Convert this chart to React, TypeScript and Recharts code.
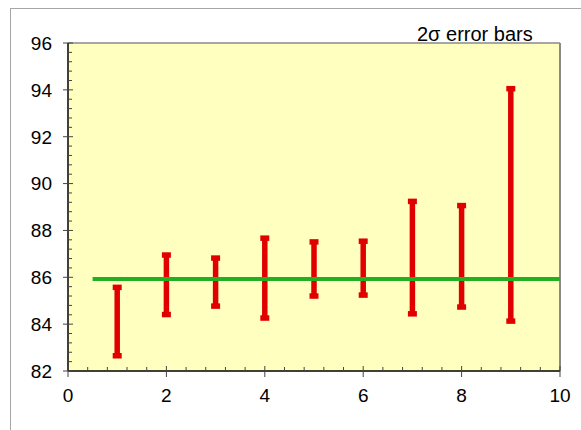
/**
 * 2σ error bars around a mean line, Excel-style plot.
 */

import {
  ComposedChart,
  Scatter,
  ErrorBar,
  XAxis,
  YAxis,
  CartesianGrid,
  ReferenceLine,
} from 'recharts'

// ---- data ----
const groups = [1, 2, 3, 4, 5, 6, 7, 8, 9]
const lowValues = [82.65, 84.41, 84.77, 84.26, 85.2, 85.24, 84.44, 84.73, 84.13]
const highValues = [85.57, 86.95, 86.82, 87.67, 87.51, 87.54, 89.24, 89.06, 94.05]
const meanLineX = [0.5, 10]
const meanValue = 85.93

const xMajorTicks = [0, 2, 4, 6, 8, 10]
const yMajorTicks = [82, 84, 86, 88, 90, 92, 94, 96]
const minorStep = 0.4

const FONT = '"Liberation Sans", Arial, sans-serif'
const RED = '#e00000'
const GREEN = '#22b022'

// minor tick positions between the axis ends
function tickRange(from: number, to: number, step: number) {
  const out: number[] = []
  for (let v = from; v <= to + 1e-9; v += step) out.push(Math.round(v * 10) / 10)
  return out
}
const xTicks = tickRange(0, 10, minorStep)
const yTicks = tickRange(82, 96, minorStep)

const barData = groups.map((g, i) => ({
  x: g,
  y: lowValues[i],
  err: [0, highValues[i] - lowValues[i]],
}))
const meanData = meanLineX.map((x) => ({ x, y: meanValue }))

const isMajor = (v: number, majors: number[]) => majors.some((m) => Math.abs(m - v) < 1e-6)

function XTick({ x, y, payload }: { x: number; y: number; payload: { value: number } }) {
  const v = payload.value
  const major = isMajor(v, xMajorTicks)
  return (
    <g>
      <line x1={x} x2={x} y1={y - (major ? 5 : 4)} y2={major ? y + 6 : y} stroke="#444" strokeWidth={1} />
      {major && (
        <text x={x} y={y + 30.5} textAnchor="middle" fontSize={19} fontFamily={FONT} fill="#000">
          {v}
        </text>
      )}
    </g>
  )
}

function YTick({ x, y, payload }: { x: number; y: number; payload: { value: number } }) {
  const v = payload.value
  const major = isMajor(v, yMajorTicks)
  return (
    <g>
      <line x1={major ? x - 5 : x} x2={x + (major ? 5 : 4)} y1={y} y2={y} stroke="#444" strokeWidth={1} />
      {major && (
        <text x={x - 16} y={y} dy="0.36em" textAnchor="end" fontSize={19} fontFamily={FONT} fill="#000">
          {v}
        </text>
      )}
    </g>
  )
}

const noDot = () => <g />

export default function App() {
  return (
    <div style={{ position: 'absolute', left: 0, top: 0, width: 581, height: 430, background: '#fff', overflow: 'hidden' }}>
      <div
        style={{
          position: 'absolute',
          left: 10,
          top: 8,
          width: 700,
          height: 600,
          border: '1px solid #a6a6a6',
        }}
      />
      <div
        style={{
          position: 'absolute',
          left: 417,
          top: 23,
          fontFamily: FONT,
          fontSize: 20,
          lineHeight: '22px',
          color: '#000',
          whiteSpace: 'nowrap',
        }}
      >
        2σ error bars
      </div>
      <div style={{ position: 'absolute', left: 0, top: 0 }}>
        <ComposedChart width={581} height={430} margin={{ top: 43, right: 21, bottom: 29, left: 0 }}>
          <CartesianGrid horizontal={false} vertical={false} fill="#ffffc0" fillOpacity={1} />
          <XAxis
            type="number"
            dataKey="x"
            domain={[0, 10]}
            ticks={xTicks}
            interval={0}
            height={30}
            tickSize={0}
            tickMargin={0}
            tickLine={false}
            axisLine={{ stroke: '#000', strokeWidth: 1.5 }}
            tick={(p: any) => <XTick {...p} />}
            allowDataOverflow
          />
          <YAxis
            type="number"
            dataKey="y"
            domain={[82, 96]}
            ticks={yTicks}
            interval={0}
            width={68}
            tickSize={0}
            tickMargin={0}
            tickLine={false}
            axisLine={{ stroke: '#000', strokeWidth: 1.5 }}
            tick={(p: any) => <YTick {...p} />}
            allowDataOverflow
          />
          <ReferenceLine y={96} stroke="#8a8a8a" strokeWidth={1.5} />
          <ReferenceLine x={10} stroke="#8a8a8a" strokeWidth={2} />
          <Scatter data={barData} shape={noDot} isAnimationActive={false}>
            <ErrorBar dataKey="err" direction="y" width={4.5} stroke={RED} strokeWidth={5.5} isAnimationActive={false} />
          </Scatter>
          <Scatter
            data={meanData}
            shape={noDot}
            line={{ stroke: GREEN, strokeWidth: 4 }}
            isAnimationActive={false}
          />
        </ComposedChart>
      </div>
    </div>
  )
}
